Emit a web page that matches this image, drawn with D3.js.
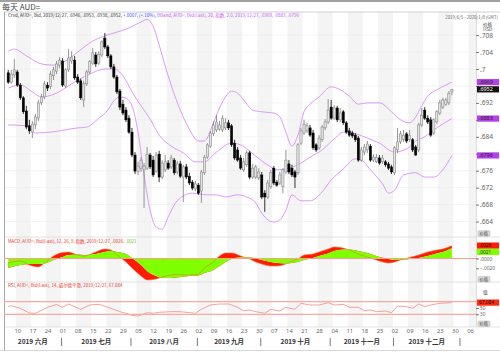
<!DOCTYPE html>
<html>
<head>
<meta charset="utf-8">
<script src="https://cdn.jsdelivr.net/npm/d3@7"></script>
<style>
  body { margin: 0; background: #fff; }
  svg { display: block; font-family: "Noto Sans CJK SC", "Noto Sans", sans-serif; }
</style>
</head>
<body>
<div id="chart"></div>
<script>
// Daily AUD= candles, Jun 5 - Dec 27 2019 (one value per trading day)
const opens = [
  .6991,.6969,.6986,.6993,.6962,.6932,.6901,.6866,.6851,.6868,
  .6884,.6920,.6934,.6962,.6958,.6984,.6995,.7009,.7019,.6960,
  .6998,.7019,.7021,.6981,.6972,.6927,.6965,.6993,.7014,.7033,
  .7014,.7033,.7073,.7052,.7031,.7005,.6981,.6948,.6917,.6903,
  .6884,.6851,.6797,.6759,.6766,.6762,.6766,.6797,.6785,.6759,
  .6799,.6745,.6762,.6778,.6769,.6785,.6757,.6776,.6745,.6769,
  .6747,.6733,.6717,.6726,.6712,.6755,.6792,.6818,.6847,.6856,
  .6858,.6856,.6861,.6873,.6866,.6825,.6809,.6790,.6762,.6774,
  .6802,.6745,.6745,.6743,.6750,.6707,.6698,.6722,.6766,.6733,
  .6731,.6722,.6757,.6776,.6766,.6757,.6755,.6825,.6849,.6854,
  .6861,.6849,.6821,.6814,.6833,.6861,.6875,.6910,.6884,.6908,
  .6880,.6899,.6873,.6854,.6849,.6844,.6837,.6785,.6804,.6809,
  .6818,.6785,.6781,.6790,.6781,.6781,.6776,.6769,.6755,.6809,
  .6828,.6833,.6847,.6833,.6833,.6816,.6809,.6868,.6903,.6884,
  .6880,.6849,.6875,.6896,.6910,.6917,.6920,.6946
];
const highs = [
  .6998,.6998,.7024,.6998,.6967,.6936,.6913,.6880,.6877,.6894,
  .6927,.6941,.6972,.6969,.6995,.7005,.7019,.7028,.7026,.7002,
  .7047,.7042,.7031,.6988,.6977,.6972,.6998,.7021,.7050,.7040,
  .7042,.7068,.7085,.7057,.7035,.7012,.6986,.6953,.6927,.6910,
  .6891,.6861,.6804,.6781,.6792,.6778,.6816,.6802,.6795,.6804,
  .6807,.6785,.6797,.6785,.6797,.6790,.6783,.6783,.6774,.6776,
  .6755,.6738,.6736,.6731,.6762,.6797,.6825,.6854,.6877,.6891,
  .6877,.6891,.6884,.6880,.6870,.6833,.6816,.6797,.6790,.6807,
  .6807,.6776,.6774,.6766,.6757,.6714,.6738,.6762,.6771,.6738,
  .6757,.6766,.6809,.6785,.6774,.6762,.6825,.6861,.6880,.6873,
  .6868,.6856,.6825,.6844,.6868,.6882,.6929,.6927,.6915,.6913,
  .6908,.6903,.6877,.6861,.6854,.6849,.6842,.6816,.6823,.6830,
  .6823,.6799,.6799,.6797,.6797,.6785,.6781,.6774,.6818,.6861,
  .6854,.6856,.6851,.6856,.6837,.6821,.6873,.6908,.6910,.6891,
  .6887,.6884,.6903,.6927,.6932,.6932,.6948,.6953
];
const lows = [
  .6965,.6965,.6979,.6958,.6927,.6894,.6858,.6847,.6837,.6858,
  .6877,.6915,.6929,.6948,.6953,.6974,.6988,.7002,.6958,.6955,
  .6993,.7012,.6974,.6965,.6927,.6910,.6960,.6988,.7009,.7005,
  .7009,.7028,.7047,.7026,.7000,.6977,.6941,.6903,.6891,.6875,
  .6847,.6792,.6752,.6750,.6757,.6672,.6762,.6764,.6745,.6755,
  .6733,.6740,.6757,.6762,.6764,.6750,.6752,.6743,.6686,.6740,
  .6726,.6714,.6712,.6703,.6684,.6750,.6788,.6814,.6842,.6851,
  .6854,.6851,.6856,.6856,.6816,.6785,.6781,.6762,.6757,.6769,
  .6740,.6740,.6740,.6738,.6693,.6663,.6693,.6717,.6726,.6722,
  .6726,.6707,.6752,.6752,.6745,.6719,.6750,.6821,.6844,.6849,
  .6840,.6809,.6804,.6809,.6828,.6856,.6870,.6880,.6880,.6875,
  .6875,.6868,.6847,.6840,.6837,.6828,.6781,.6781,.6797,.6802,
  .6781,.6781,.6778,.6774,.6776,.6769,.6762,.6752,.6750,.6802,
  .6823,.6828,.6825,.6828,.6804,.6795,.6804,.6863,.6880,.6870,
  .6840,.6844,.6870,.6891,.6906,.6913,.6915,.6938
];
const closes = [
  .6969,.6988,.6998,.6962,.6932,.6899,.6863,.6854,.6870,.6887,
  .6920,.6934,.6965,.6955,.6988,.6998,.7012,.7021,.6962,.6998,
  .7026,.7028,.6979,.6969,.6932,.6965,.6993,.7017,.7038,.7012,
  .7035,.7064,.7052,.7031,.7005,.6981,.6946,.6910,.6896,.6880,
  .6851,.6797,.6759,.6771,.6785,.6771,.6799,.6769,.6750,.6797,
  .6745,.6778,.6781,.6766,.6790,.6755,.6776,.6747,.6769,.6745,
  .6731,.6719,.6729,.6707,.6757,.6792,.6821,.6849,.6868,.6875,
  .6868,.6884,.6873,.6861,.6821,.6790,.6785,.6766,.6781,.6802,
  .6745,.6766,.6769,.6757,.6698,.6698,.6731,.6755,.6731,.6726,
  .6750,.6762,.6785,.6757,.6750,.6745,.6821,.6854,.6870,.6866,
  .6844,.6814,.6809,.6837,.6863,.6875,.6903,.6884,.6908,.6880,
  .6896,.6873,.6851,.6844,.6842,.6833,.6785,.6809,.6816,.6823,
  .6785,.6792,.6792,.6778,.6790,.6774,.6766,.6757,.6814,.6828,
  .6847,.6844,.6830,.6844,.6809,.6797,.6868,.6891,.6884,.6875,
  .6844,.6880,.6899,.6920,.6927,.6927,.6943,.6952
];

// Bollinger bands (20, 2.0): [trading day number, value]
const bbUpper = [
  [0,.7042],[2,.7047],[6,.7031],[11,.7012],[15,.7009],[19,.7019],[23,.7040],[28,.7066],
  [32,.7078],[36,.7087],[40,.7097],[44,.7111],[46,.7117],[48,.7101],[50,.7057],[52,.7007],
  [54,.6962],[57,.6903],[60,.6858],[63,.6830],[65,.6830],[68,.6873],[70,.6908],[72,.6934],
  [74,.6948],[76,.6943],[78,.6927],[81,.6903],[84,.6899],[88,.6896],[90,.6887],[92,.6851],
  [94,.6818],[96,.6844],[98,.6899],[100,.6917],[103,.6934],[107,.6958],[110,.6951],[113,.6936],
  [116,.6917],[119,.6920],[123,.6920],[127,.6899],[130,.6880],[133,.6873],[135,.6887],[137,.6913],
  [139,.6936],[142,.6951],[145,.6962],[147,.6969]
];
const bbMiddle = [
  [0,.6955],[4,.6962],[8,.6946],[11,.6934],[16,.6943],[21,.6965],[27,.6988],[32,.7000],
  [35,.7000],[38,.6984],[41,.6946],[44,.6913],[47,.6882],[50,.6844],[54,.6818],[58,.6802],
  [62,.6781],[65,.6781],[69,.6804],[74,.6825],[77,.6821],[80,.6806],[84,.6783],[87,.6769],
  [89,.6762],[93,.6766],[97,.6778],[100,.6792],[104,.6809],[108,.6835],[111,.6851],[114,.6849],
  [119,.6837],[123,.6825],[128,.6804],[133,.6816],[135,.6830],[138,.6840],[142,.6861],[147,.6883]
];
const bbLower = [
  [0,.6868],[6,.6866],[9,.6849],[14,.6851],[23,.6861],[26,.6863],[30,.6884],[33,.6903],
  [35,.6925],[37,.6934],[39,.6931],[41,.6913],[43,.6851],[45,.6750],[47,.6667],[49,.6627],
  [51,.6622],[53,.6651],[56,.6689],[61,.6707],[66,.6703],[69,.6703],[72,.6698],[76,.6703],
  [79,.6698],[82,.6684],[84,.6660],[86,.6644],[88,.6639],[90,.6644],[92,.6667],[94,.6703],
  [97,.6689],[100,.6689],[104,.6710],[107,.6738],[111,.6764],[115,.6788],[117,.6785],[120,.6762],
  [124,.6729],[126,.6707],[128,.6714],[131,.6750],[135,.6755],[138,.6745],[141,.6745],[144,.6762],
  [147,.6796]
];

// MACD (12, 26, 9)
const macdDays = [0,4,7,10,12,15,18,20,23,25,29,32,34,36,39,41,44,46,49,51,54,57,60,63,65,68,70,72,74,77,
  80,82,84,87,89,92,94,96,98,101,103,106,108,111,113,116,119,121,123,126,128,131,133,136,139,142,144,147];
const macdValues = [-.00092,-.00051,-.00133,-.00173,-.00092,.00051,.00122,.00133,.00071,.00051,
  .00133,.00194,.00173,.00071,-.00071,-.00194,-.00357,-.00439,-.00418,-.00378,
  -.00337,-.00327,-.00337,-.00316,-.00194,-.00071,.00051,.00112,.00112,.00051,
  -.0001,-.00071,-.00112,-.00153,-.00153,-.00112,-.00051,-.0001,.00071,.00092,
  .00133,.00194,.00235,.00214,.00173,.00092,.00031,-.0001,-.00051,-.00092,
  -.00071,-.0001,.0002,.00071,.00133,.00173,.00194,.0026];
const signalValues = [-.00194,-.00133,-.00112,-.00112,-.00102,-.00031,.00031,.00071,.00082,.00071,
  .00092,.00133,.00153,.00133,.00092,.0001,-.00133,-.00255,-.00357,-.00398,
  -.00398,-.00378,-.00357,-.00347,-.00296,-.00235,-.00153,-.00071,-.0001,.0002,
  .0002,0,-.00031,-.00071,-.00092,-.00102,-.00092,-.00071,-.00031,.0001,
  .00051,.00102,.00153,.00184,.00184,.00153,.00112,.00071,.00031,-.0001,
  -.00031,-.00031,-.0001,.0001,.00051,.00102,.00133,.0021];

// RSI (14, Wilder)
const rsiDays = [0,1,4,7,9,13,16,18,20,24,27,30,34,37,39,41,43,46,48,50,54,57,60,62,64,67,70,73,76,78,
  80,82,85,87,90,92,95,97,100,103,106,108,111,113,116,118,120,122,125,127,129,132,134,136,138,140,143,147];
const rsiValues = [54.7,57.3,49.0,34.1,33.2,52.2,61.1,52.2,62.7,45.9,59.5,61.7,49.0,38.3,33.2,26.8,24.6,35.1,33.2,36.4,
  38.3,38.3,35.1,33.2,45.9,59.5,62.7,62.7,52.2,41.4,43.7,38.3,33.2,45.9,40.5,52.2,45.9,64.9,59.5,59.5,
  66.8,59.5,61.7,52.2,52.2,41.4,43.7,38.3,40.5,35.1,56.3,54.1,49.0,62.7,54.1,59.5,64.9,67.084];

const priceTicks = [.664,.668,.672,.676,.68,.684,.688,.692,.696,.7,.704,.708];
const hiddenTicks = [.68, .688, .696];   // covered by the value markers
const macdTicks = [-.002, 0];
const rsiTicks = [50, 30];
const monthNames = ["2019 六月","2019 七月","2019 八月","2019 九月","2019 十月","2019 十一月","2019 十二月"];

const W = 500, H = 352;
const L = 4, R = 476;
const mainTop = 12, mainBot = 237, macdBot = 282, rsiBot = 327;

const svg = d3.select("#chart").append("svg").attr("width", W).attr("height", H);

// trading days and position on the weekday axis
const startMonday = new Date(2019, 5, 3);
const dayIndex = d => d3.timeMonday.count(startMonday, d) * 5 + d.getDay() - 3;
const tradingDays = d3.timeDay.range(new Date(2019, 5, 5), new Date(2019, 11, 28))
  .filter(d => d.getDay() % 6 !== 0);
const candles = tradingDays.map((d, k) => ({ d, k, o: opens[k], h: highs[k], l: lows[k], c: closes[k] }));

const x = d3.scaleLinear().domain([3, 153]).range([17.3, 470]);
const y = d3.scaleLinear().domain([.664, .708]).range([221.55, 35.1]);
const yMacd = d3.scaleLinear().domain([-.002, 0]).range([268.3, 258.5]);
const yRsi = d3.scaleLinear().domain([30, 70]).range([314.3, 301.7]);

// clip paths
const defs = svg.append("defs");
[["clipMain", mainTop, mainBot], ["clipMacd", mainBot, macdBot], ["clipRsi", macdBot, rsiBot], ["clipBand", mainTop, rsiBot]]
  .forEach(([id, t, b]) => {
    defs.append("clipPath").attr("id", id).append("rect")
      .attr("x", L).attr("y", t).attr("width", R - L).attr("height", b - t);
  });

// weekly shading, every other week
const mondays = d3.timeMonday.range(new Date(2019, 5, 10), new Date(2020, 0, 7));
const shade = svg.append("g").attr("clip-path", "url(#clipBand)");
mondays.forEach((m, i) => {
  if (i % 2) return;
  const k = dayIndex(m);
  shade.append("rect").attr("x", x(k - 0.5)).attr("y", mainTop)
    .attr("width", x(k + 4.5) - x(k - 0.5)).attr("height", rsiBot - mainTop).attr("fill", "#f4f4f4");
});

// horizontal grid
svg.append("g").selectAll("line").data(priceTicks).join("line")
  .attr("x1", L).attr("x2", R).attr("y1", d => y(d)).attr("y2", d => y(d))
  .attr("stroke", "#ebebeb").attr("stroke-width", 0.6);

// frames
const frame = svg.append("g").attr("fill", "none");
frame.append("line").attr("x1", 0).attr("x2", W).attr("y1", 1).attr("y2", 1).attr("stroke", "#a0a0a0").attr("stroke-width", 2);
frame.append("line").attr("x1", L).attr("x2", W).attr("y1", mainTop).attr("y2", mainTop).attr("stroke", "#d0d0d0");
[mainBot, macdBot, rsiBot].forEach(v =>
  frame.append("line").attr("x1", L).attr("x2", W).attr("y1", v).attr("y2", v).attr("stroke", "#dcdcdc").attr("stroke-width", 0.8));
frame.append("line").attr("x1", L + 0.5).attr("x2", L + 0.5).attr("y1", mainTop).attr("y2", 350).attr("stroke", "#a8a8a8");
frame.append("line").attr("x1", R + 0.5).attr("x2", R + 0.5).attr("y1", mainTop).attr("y2", rsiBot).attr("stroke", "#dcdcdc");
frame.append("line").attr("x1", 0).attr("x2", W).attr("y1", 350.5).attr("y2", 350.5).attr("stroke", "#d8d8d8");

// Bollinger bands
const main = svg.append("g").attr("clip-path", "url(#clipMain)");
const bandLine = d3.line().x(d => x(d[0])).y(d => y(d[1])).curve(d3.curveMonotoneX);
[bbUpper, bbMiddle, bbLower].forEach(b =>
  main.append("path").attr("d", bandLine(b)).attr("fill", "none").attr("stroke", "#d98ff7").attr("stroke-width", 0.9));

// candles
const cg = main.append("g").selectAll("g").data(candles).join("g");
cg.append("line")
  .attr("x1", d => x(d.k)).attr("x2", d => x(d.k))
  .attr("y1", d => y(d.h)).attr("y2", d => y(d.l))
  .attr("stroke", d => d.c >= d.o ? "#7a7a7a" : "#000").attr("stroke-width", 0.8);
cg.append("rect")
  .attr("x", d => x(d.k) - 1.1).attr("width", 2.2)
  .attr("y", d => y(Math.max(d.o, d.c)))
  .attr("height", d => Math.max(0.8, Math.abs(y(d.o) - y(d.c))))
  .attr("fill", d => d.c >= d.o ? "#e2e2e2" : "#000")
  .attr("stroke", d => d.c >= d.o ? "#7a7a7a" : "#000").attr("stroke-width", 0.5);

// MACD panel
const macdPts = macdDays.map((k, i) => ({ k, m: macdValues[i], s: signalValues[i] }));
const mg = svg.append("g").attr("clip-path", "url(#clipMacd)");
mg.append("path").datum(macdPts)
  .attr("d", d3.area().x(d => x(d.k)).y0(d => yMacd(d.s)).y1(d => yMacd(d.m)).curve(d3.curveMonotoneX))
  .attr("fill", "#ff1a00");
mg.append("path").datum(macdPts)
  .attr("d", d3.area().x(d => x(d.k)).y0(yMacd(0)).y1(d => yMacd(d.s)).curve(d3.curveMonotoneX))
  .attr("fill", "#80ff00");
mg.append("path").datum(macdPts)
  .attr("d", d3.line().x(d => x(d.k)).y(d => yMacd(d.m)).curve(d3.curveMonotoneX))
  .attr("fill", "none").attr("stroke", "#e8743a").attr("stroke-width", 0.6);
svg.append("line").attr("x1", L).attr("x2", R + 2).attr("y1", yMacd(0)).attr("y2", yMacd(0))
  .attr("stroke", "#f7a08a").attr("stroke-width", 1);

// RSI panel
const rg = svg.append("g").attr("clip-path", "url(#clipRsi)");
[70, 30].forEach(v => svg.append("line").attr("x1", L).attr("x2", R + 2).attr("y1", yRsi(v)).attr("y2", yRsi(v))
  .attr("stroke", "#f8aaa0").attr("stroke-width", 1.3));
rg.append("path").datum(rsiDays.map((k, i) => [k, rsiValues[i]]))
  .attr("d", d3.line().x(d => x(d[0])).y(d => yRsi(d[1])))
  .attr("fill", "none").attr("stroke", "#f28b80").attr("stroke-width", 0.8);

// right axes
const priceFmt = v => hiddenTicks.includes(v) ? "" : d3.format(".3~f")(v).replace(/^0/, "");
const styleAxis = size => g => {
  g.select(".domain").remove();
  g.selectAll("line").attr("stroke", "#777");
  g.selectAll("text").attr("fill", "#666").attr("font-size", size).attr("font-family", "Noto Sans, sans-serif");
};
svg.append("g").attr("transform", `translate(${R},0)`)
  .call(d3.axisRight(y).tickValues(priceTicks).tickSize(3).tickPadding(1).tickFormat(priceFmt)).call(styleAxis(6.5));
svg.append("g").attr("transform", `translate(${R},0)`)
  .call(d3.axisRight(yMacd).tickValues(macdTicks).tickSize(3).tickPadding(1)
    .tickFormat(v => d3.format(".4f")(v).replace("0.", "."))).call(styleAxis(4.8));
svg.append("g").attr("transform", `translate(${R},0)`)
  .call(d3.axisRight(yRsi).tickValues(rsiTicks).tickSize(3).tickPadding(1)).call(styleAxis(4.6));

const axisHead = (yy, lines) => lines.forEach((t, i) =>
  svg.append("text").attr("x", 483).attr("y", yy + i * 5).attr("font-size", 4.6).attr("fill", "#333").text(t));
axisHead(25.5, ["价格", "USD"]);
axisHead(293.5, ["值"]);

// value markers on the right
const marker = (yy, fill, color, label, size = 5.4) => {
  svg.append("rect").attr("x", 477).attr("y", yy - 3.1).attr("width", 22).attr("height", 6.2).attr("fill", fill);
  svg.append("text").attr("x", 479).attr("y", yy + size * 0.34).attr("font-size", size).attr("fill", color)
    .attr("font-family", "Noto Sans, sans-serif").text(label);
};
marker(y(.6969), "#b540ee", "#222", ".6969");
marker(y(.6952), "#111", "#fff", ".6952");
marker(y(.6883), "#b540ee", "#222", ".6883");
marker(y(.6796), "#b540ee", "#222", ".6796");
marker(245.6, "#ff1a00", "#111", ".0026", 4.8);
marker(251.9, "#80ff00", "#333", ".0021", 4.8);
marker(yRsi(67.084), "#ff2a10", "#111", "67.084", 4.8);
[233.5, 279.2, 323.8].forEach(yy => {
  svg.append("rect").attr("x", 478).attr("y", yy - 2.8).attr("width", 12).attr("height", 5.6).attr("rx", 1)
    .attr("fill", "#d6d6d6").attr("stroke", "#aaa").attr("stroke-width", 0.4);
  svg.append("text").attr("x", 479.5).attr("y", yy + 1.6).attr("font-size", 4.2).attr("fill", "#444").text("价格");
});

// date axis
svg.append("g").attr("transform", `translate(0,${rsiBot})`)
  .call(d3.axisBottom(x).tickValues(mondays.map(dayIndex)).tickSize(0).tickPadding(2.2)
    .tickFormat((k, i) => d3.timeFormat("%d")(mondays[i])))
  .call(g => {
    g.select(".domain").remove();
    g.selectAll("text").attr("fill", "#666").attr("font-size", 5.8).attr("font-family", "Noto Sans, sans-serif");
  });

const monthStarts = [new Date(2019, 6, 1), new Date(2019, 7, 1), new Date(2019, 8, 2), new Date(2019, 9, 1),
  new Date(2019, 10, 1), new Date(2019, 11, 2), new Date(2020, 0, 1)];
const sepX = monthStarts.map(d => x(dayIndex(d)) - 1);
sepX.forEach(sx => svg.append("line").attr("x1", sx).attr("x2", sx).attr("y1", 338).attr("y2", 346)
  .attr("stroke", "#555").attr("stroke-width", 0.8));
const edges = [L].concat(sepX);
monthNames.forEach((t, i) => svg.append("text")
  .attr("x", (edges[i] + edges[i + 1]) / 2).attr("y", 344.3).attr("text-anchor", "middle")
  .attr("font-size", 6.5).attr("font-weight", "bold").attr("fill", "#333").text(t));

// title and legends
svg.append("text").attr("x", 2).attr("y", 10).attr("font-size", 8).attr("fill", "#444").text("每天 AUD=");
svg.append("text").attr("x", 498).attr("y", 19).attr("text-anchor", "end").attr("font-size", 4.4)
  .attr("fill", "#666").text("2019/6/5 - 2020/1/8 (GMT)");

// legend lines: font size chosen so each line spans the same width as in the original
const legend = (yy, width, parts) => {
  const t = svg.append("text").attr("x", 8).attr("y", yy).attr("font-size", 10);
  parts.forEach(([s, c]) => t.append("tspan").attr("fill", c).text(s));
  const w = t.node().getComputedTextLength();
  t.attr("font-size", (10 * width / w).toFixed(2));
};
legend(16.5, 291, [
  ["Crvd, AUD=, Bid, 2019/12/27, .6946, .6953, .6938, .6952, ", "#333"],
  ["+.0007, (+.10%), ", "#3a5cff"],
  ["BBand, AUD=, Bid(Last), 20, 指数, 2.0, 2019/12/27, .6969, .6883, .6796", "#c65cf5"]
]);
legend(242.5, 129, [
  ["MACD, AUD=, Bid(Last), 12, 26, 9, 指数, 2019/12/27, .0026, ", "#e83a2a"],
  [".0021", "#66cc00"]
]);
legend(286.5, 115, [["RSI, AUD=, Bid(Last), 14, 威尔德平滑, 2019/12/27, 67.084", "#e83a2a"]]);
</script>
</body>
</html>
